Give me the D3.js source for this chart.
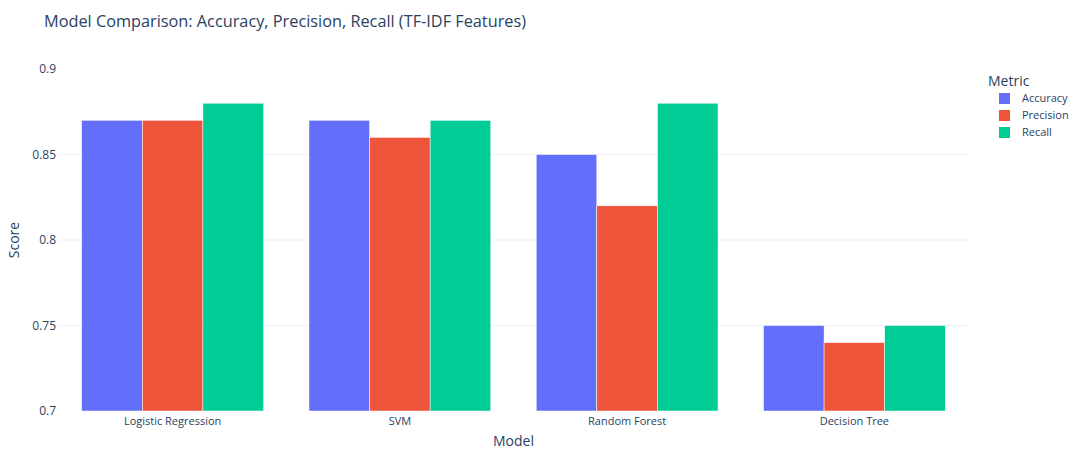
<!DOCTYPE html>
<html>
<head>
<meta charset="utf-8">
<script src="https://cdn.jsdelivr.net/npm/d3@7"></script>
<style>
  body { margin: 0; background: #fff; }
  text { font-family: "Open Sans", verdana, arial, sans-serif; fill: #2a3f5f; }
</style>
</head>
<body>
<svg id="chart" width="1075" height="455"></svg>
<script>
// data
var models = ["Logistic Regression", "SVM", "Random Forest", "Decision Tree"];
var metrics = ["Accuracy", "Precision", "Recall"];
var accuracy = [0.87, 0.87, 0.85, 0.75];
var precision = [0.87, 0.86, 0.82, 0.74];
var recall = [0.88, 0.87, 0.88, 0.75];
var yTicks = [0.7, 0.75, 0.8, 0.85, 0.9];
var colors = ["#636efa", "#EF553B", "#00cc96"];

var series = [accuracy, precision, recall];

var margin = {top: 69, right: 107, bottom: 44, left: 59};
var width = 1075, height = 455;
var panel = {
  width: width - margin.left - margin.right,
  height: height - margin.top - margin.bottom };

var svg = d3.select("#chart");

var g = svg.append("g")
  .attr("transform", "translate(" + margin.left + "," + margin.top + ")");

var x0 = d3.scaleBand()
  .domain(models)
  .range([0, panel.width])
  .paddingInner(0.2)
  .paddingOuter(0.1);

var x1 = d3.scaleBand()
  .domain(metrics)
  .range([0, x0.bandwidth()]);

var yScale = d3.scaleLinear()
  .domain([0.7, 0.9])
  .range([panel.height, 0]);

// gridlines
g.append("g")
  .selectAll("line")
  .data(yTicks.slice(1, -1))
  .enter()
  .append("line")
  .attr("x1", 0).attr("x2", panel.width)
  .attr("y1", d => yScale(d)).attr("y2", d => yScale(d))
  .style("stroke", "#ebf0f8")
  .style("stroke-width", 1);

// bars
var groups = g.append("g")
  .selectAll("g")
  .data(models)
  .enter()
  .append("g")
  .attr("transform", d => "translate(" + x0(d) + ",0)");

groups.selectAll("rect")
  .data((d, i) => metrics.map((m, j) => ({metric: m, value: series[j][i], j: j})))
  .enter()
  .append("rect")
  .attr("x", d => x1(d.metric))
  .attr("width", x1.bandwidth())
  .attr("y", d => yScale(d.value))
  .attr("height", d => panel.height - yScale(d.value))
  .style("fill", d => colors[d.j])
  .style("stroke", "#fff")
  .style("stroke-width", 0.5);

// y tick labels
g.append("g")
  .selectAll("text")
  .data(yTicks)
  .enter()
  .append("text")
  .attr("x", -3)
  .attr("y", d => yScale(d))
  .attr("dy", 4)
  .attr("text-anchor", "end")
  .style("font-size", "12px")
  .text(d => d3.format("")(d));

// x tick labels
g.append("g")
  .selectAll("text")
  .data(models)
  .enter()
  .append("text")
  .attr("x", d => x0(d) + x0.bandwidth() / 2)
  .attr("y", panel.height + 14)
  .attr("text-anchor", "middle")
  .style("font-size", "11px")
  .text(d => d);

// axis titles
svg.append("text")
  .attr("x", margin.left + panel.width / 2)
  .attr("y", 446)
  .attr("text-anchor", "middle")
  .style("font-size", "14px")
  .text("Model");

svg.append("text")
  .attr("transform", "translate(19," + (margin.top + panel.height / 2) + ") rotate(-90)")
  .attr("text-anchor", "middle")
  .style("font-size", "14px")
  .text("Score");

// title
svg.append("text")
  .attr("x", 44)
  .attr("y", 27)
  .style("font-size", "16.3px")
  .text("Model Comparison: Accuracy, Precision, Recall (TF-IDF Features)");

// legend
var legend = svg.append("g")
  .attr("transform", "translate(988,0)");

legend.append("text")
  .attr("x", 0)
  .attr("y", 86)
  .style("font-size", "14px")
  .text("Metric");

var items = legend.selectAll("g.item")
  .data(metrics)
  .enter()
  .append("g")
  .attr("class", "item")
  .attr("transform", (d, i) => "translate(0," + (98 + i * 17) + ")");

items.append("rect")
  .attr("x", 11).attr("y", -5)
  .attr("width", 11).attr("height", 11)
  .style("fill", (d, i) => colors[i]);

items.append("text")
  .attr("x", 34)
  .attr("y", 4)
  .style("font-size", "11px")
  .text(d => d);
</script>
</body>
</html>
